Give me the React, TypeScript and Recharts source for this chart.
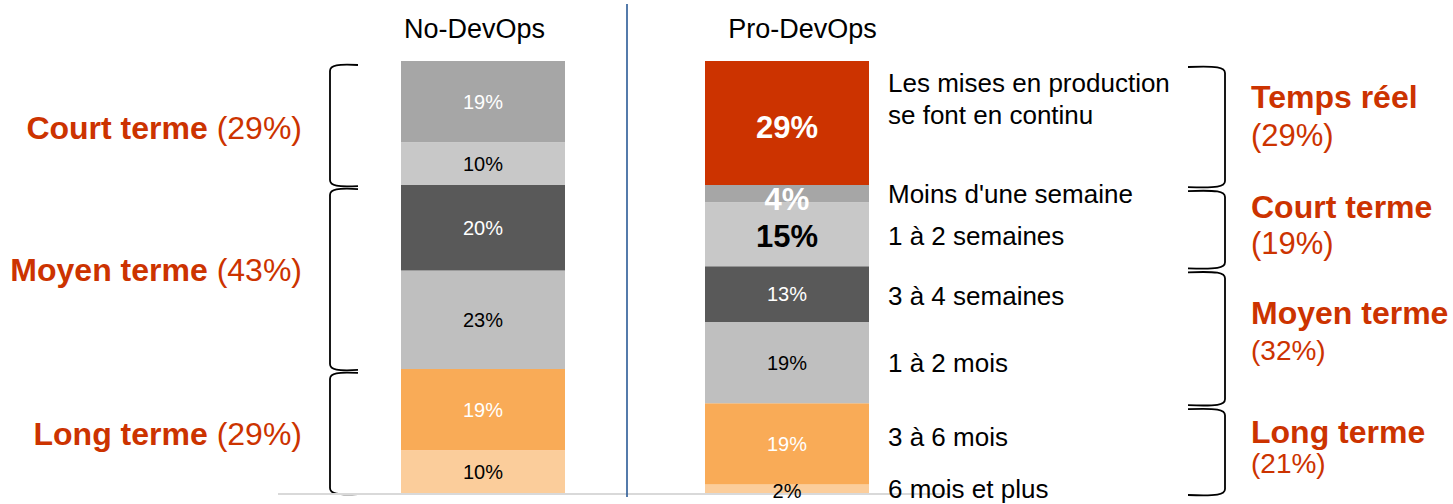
import React from "react";
import { BarChart, Bar, XAxis, YAxis, LabelList, ReferenceArea, ReferenceLine } from "recharts";

// ---------- data ----------
const CATEGORIES = ["No-DevOps", "Pro-DevOps"];
const SERIES_KEYS = ["s6m", "s3m", "s1m", "s3w", "s1w", "sLt1w", "sCont"];
const SERIES_NAMES = [
  "6 mois et plus",
  "3 à 6 mois",
  "1 à 2 mois",
  "3 à 4 semaines",
  "1 à 2 semaines",
  "Moins d'une semaine",
  "Les mises en production|se font en continu",
];
const NO_DEVOPS = [10, 19, 23, 20, 10, 19, 0];
const PRO_DEVOPS = [2, 19, 19, 13, 15, 4, 29];

const LEFT_GROUP_NAMES = ["Long terme", "Moyen terme", "Court terme"];
const LEFT_GROUP_PCTS = ["(29%)", "(43%)", "(29%)"];
const LEFT_GROUP_SERIES = [[0, 1], [2, 3], [4, 5]];

const RIGHT_GROUP_NAMES = ["Long terme", "Moyen terme", "Court terme", "Temps réel"];
const RIGHT_GROUP_PCTS = ["(21%)", "(32%)", "(19%)", "(29%)"];
const RIGHT_GROUP_SERIES = [[0, 1], [2, 3], [4, 5], [6, 6]];

// ---------- layout & styles ----------
const W = 1453;
const H = 504;
const MARGIN = { top: 31, right: 514, bottom: 11, left: 331 };
const BAND_SPLIT = MARGIN.left + (W - MARGIN.left - MARGIN.right) / CATEGORIES.length;
const FONT = '"Liberation Sans", Arial, sans-serif';
const RED = "#cc3300";
const COLORS = ["#fbcd9b", "#f9ab57", "#bfbfbf", "#595959", "#c8c8c8", "#a6a6a6", RED];
const LABEL_COLORS = ["#000", "#fff", "#000", "#fff", "#000", "#fff", "#fff"];
const BOLD_PRO = [false, false, false, false, true, true, true];
const VALUE_DY_PRO = [2, 0, 0, 0, 2, 5, 4];
const DESC_DY = [9, 2, 9, 11, 11, 9, -31];
const TITLE_DX = [-8.5, 15.5];
const LEFT_DY = [14, 4, 16];
const RIGHT_DY1 = [-5, -10.5, -7.5, -15];
const RIGHT_DY2 = [25, 25, 28.5, 23];
const RIGHT_FS2 = [28, 28, 31, 31];

const Y_MAX = Math.max(
  NO_DEVOPS.reduce((a, b) => a + b, 0),
  PRO_DEVOPS.reduce((a, b) => a + b, 0)
);

const data = CATEGORIES.map((c, i) => {
  const row: any = { name: c };
  const vals = i === 0 ? NO_DEVOPS : PRO_DEVOPS;
  SERIES_KEYS.forEach((k, j) => (row[k] = vals[j]));
  return row;
});

const cumBefore = (vals: number[], idx: number) => vals.slice(0, idx).reduce((a, b) => a + b, 0);

const makeLabel = (s: number) => (props: any) => {
  const vb = props.viewBox && props.viewBox.height !== undefined ? props.viewBox : props;
  const x = Number(vb.x);
  const y = Number(vb.y);
  const w = Number(vb.width);
  const h = Number(vb.height);
  let v = props.value;
  if (Array.isArray(v)) v = v[1] - v[0];
  if (!v || isNaN(x)) return null;
  const cat =
    props.payload && props.payload.name
      ? CATEGORIES.indexOf(props.payload.name)
      : x + w / 2 > BAND_SPLIT
      ? 1
      : 0;
  const pro = cat === 1;
  const bold = pro && BOLD_PRO[s];
  const fs = bold ? 31 : 20;
  const cy = y + h / 2;
  const lines = SERIES_NAMES[s].split("|");
  return (
    <g>
      <text
        x={x + w / 2}
        y={cy + fs * 0.36 + (pro ? VALUE_DY_PRO[s] : 0)}
        textAnchor="middle"
        fontFamily={FONT}
        fontSize={fs}
        fontWeight={bold ? "bold" : "normal"}
        fill={LABEL_COLORS[s]}
      >
        {v}%
      </text>
      {pro &&
        lines.map((ln, i) => (
          <text
            key={i}
            x={x + w + 19}
            y={cy + DESC_DY[s] + i * 32}
            fontFamily={FONT}
            fontSize={26}
            fill="#000"
          >
            {ln}
          </text>
        ))}
    </g>
  );
};

const leftBrace = (gi: number) => (p: any) => {
  const top = Number(p.y) + 4;
  const bot = Number(p.y) + Number(p.height) + 1;
  const xv = 330;
  const xa = 358;
  const cy = Number(p.y) + Number(p.height) / 2;
  return (
    <g>
      <path
        d={`M ${xa} ${top} C ${xv + 8} ${top - 1}, ${xv} ${top}, ${xv} ${top + 6} L ${xv} ${bot - 6} C ${xv} ${bot}, ${xv + 8} ${bot + 1}, ${xa} ${bot}`}
        fill="none"
        stroke="#000"
        strokeWidth={1.8}
      />
      <text x={302} y={cy + LEFT_DY[gi]} textAnchor="end" fontFamily={FONT} fontSize={32} fill={RED}>
        <tspan fontWeight="bold">{LEFT_GROUP_NAMES[gi]}</tspan>
        <tspan> {LEFT_GROUP_PCTS[gi]}</tspan>
      </text>
    </g>
  );
};

const rightBrace = (gi: number) => (p: any) => {
  const top = Number(p.y) + 6;
  const bot = Number(p.y) + Number(p.height) + 2;
  const xv = 1225;
  const xa = 1188;
  const cy = Number(p.y) + Number(p.height) / 2;
  return (
    <g>
      <path
        d={`M ${xa} ${top} C ${xv - 8} ${top - 1}, ${xv} ${top}, ${xv} ${top + 6} L ${xv} ${bot - 6} C ${xv} ${bot}, ${xv - 8} ${bot + 1}, ${xa} ${bot}`}
        fill="none"
        stroke="#000"
        strokeWidth={1.8}
      />
      <text x={1251} y={cy + RIGHT_DY1[gi]} fontFamily={FONT} fontSize={32} fontWeight="bold" fill={RED}>
        {RIGHT_GROUP_NAMES[gi]}
      </text>
      <text x={1251} y={cy + RIGHT_DY2[gi]} fontFamily={FONT} fontSize={RIGHT_FS2[gi]} fill={RED}>
        {RIGHT_GROUP_PCTS[gi]}
      </text>
    </g>
  );
};

const axisShape = (p: any) => {
  const y0 = Number(p.y1);
  return (
    <g>
      <line x1={278} x2={950} y1={y0 + 1} y2={y0 + 1} stroke="#d9d9d9" strokeWidth={2} />
      <line x1={627} x2={627} y1={4} y2={y0 + 4} stroke="#2a5a96" strokeWidth={1.6} />
    </g>
  );
};

const renderTitle = (p: any) => (
  <text
    x={Number(p.x) + TITLE_DX[p.index ?? 0]}
    y={38}
    textAnchor="middle"
    fontFamily={FONT}
    fontSize={27}
    fill="#000"
  >
    {p.payload.value}
  </text>
);

export default function App() {
  return (
    <div style={{ position: "absolute", left: 0, top: 0, width: W, height: H, background: "#fff" }}>
      <BarChart width={W} height={H} data={data} margin={MARGIN}>
        <XAxis
          dataKey="name"
          orientation="top"
          axisLine={false}
          tickLine={false}
          height={30}
          interval={0}
          tick={renderTitle}
        />
        <YAxis hide type="number" domain={[0, Y_MAX]} />
        {SERIES_KEYS.map((k, s) => (
          <Bar key={k} dataKey={k} stackId="a" fill={COLORS[s]} barSize={164} isAnimationActive={false}>
            <LabelList dataKey={k} content={makeLabel(s)} />
          </Bar>
        ))}
        <ReferenceLine y={0} ifOverflow="visible" shape={axisShape} />
        {LEFT_GROUP_SERIES.map((g, gi) => (
          <ReferenceArea
            key={"l" + gi}
            y1={cumBefore(NO_DEVOPS, g[0])}
            y2={cumBefore(NO_DEVOPS, g[1] + 1)}
            ifOverflow="visible"
            shape={leftBrace(gi)}
          />
        ))}
        {RIGHT_GROUP_SERIES.map((g, gi) => (
          <ReferenceArea
            key={"r" + gi}
            y1={cumBefore(PRO_DEVOPS, g[0])}
            y2={cumBefore(PRO_DEVOPS, g[1] + 1)}
            ifOverflow="visible"
            shape={rightBrace(gi)}
          />
        ))}
      </BarChart>
    </div>
  );
}
